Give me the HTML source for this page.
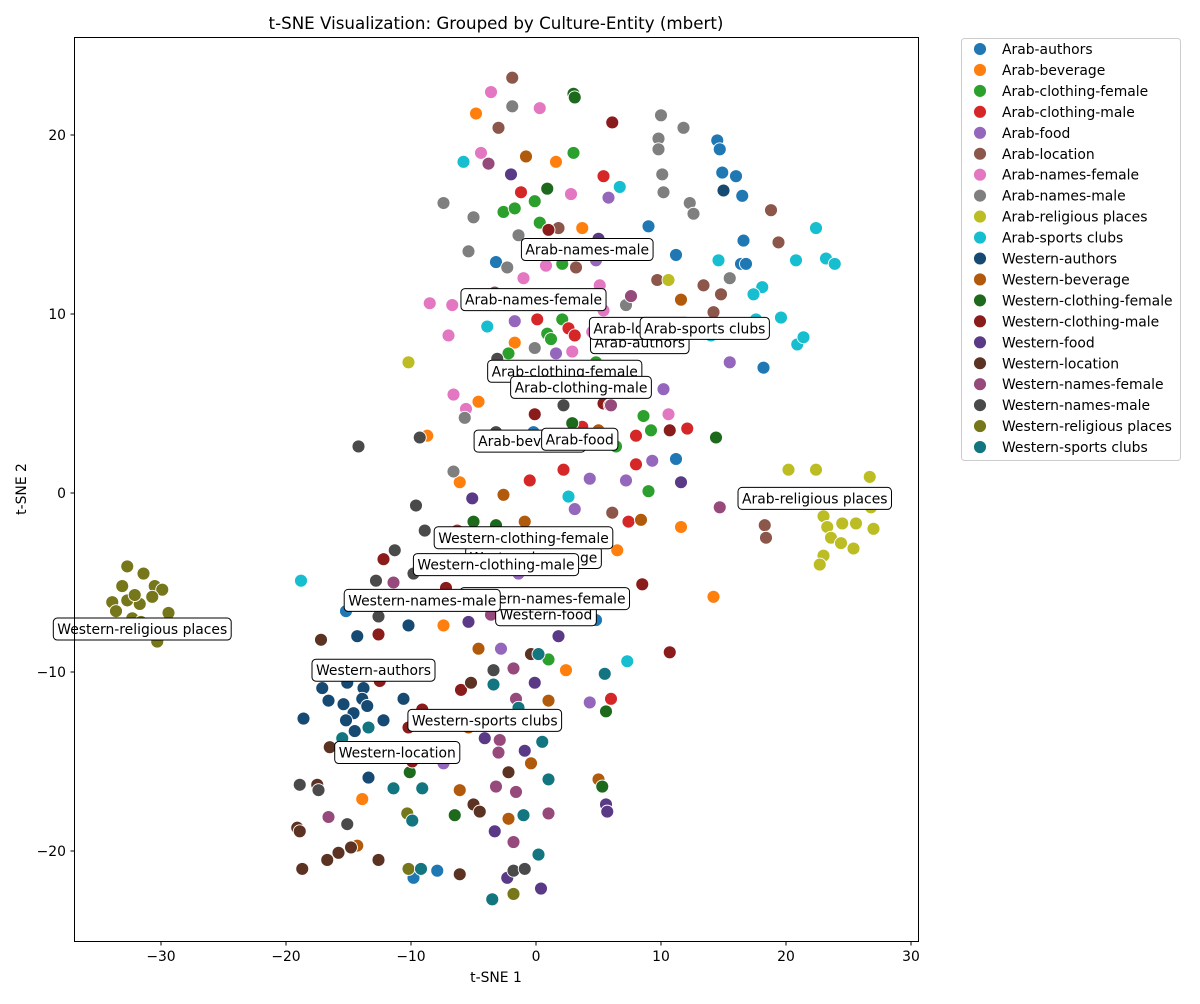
<!DOCTYPE html>
<html><head><meta charset="utf-8"><style>
body{margin:0;background:#fff;font-family:"DejaVu Sans","Liberation Sans",sans-serif}
svg text{font-family:"DejaVu Sans","Liberation Sans",sans-serif}
</style></head><body>
<svg id="chart" width="1200" height="1000" xmlns="http://www.w3.org/2000/svg">
<rect x="0" y="0" width="1200" height="1000" fill="#fff"/>
<text x="496" y="29" font-size="16.7" text-anchor="middle">t-SNE Visualization: Grouped by Culture-Entity (mbert)</text>
<text x="496" y="982" font-size="13.9" text-anchor="middle">t-SNE 1</text>
<text x="0" y="0" font-size="13.9" text-anchor="middle" transform="translate(26,489) rotate(-90)">t-SNE 2</text>
<g id="ticks"></g>
<g id="points"></g>
<g id="labels"></g>
<rect x="74.5" y="37.5" width="844" height="904" fill="none" stroke="#000" stroke-width="1"/>
<g id="legend"></g>
</svg>
<script>
const categories=["Arab-authors","Arab-beverage","Arab-clothing-female","Arab-clothing-male","Arab-food","Arab-location","Arab-names-female","Arab-names-male","Arab-religious places","Arab-sports clubs","Western-authors","Western-beverage","Western-clothing-female","Western-clothing-male","Western-food","Western-location","Western-names-female","Western-names-male","Western-religious places","Western-sports clubs"];
const colors=["#1f77b4","#ff7f0e","#2ca02c","#d62728","#9467bd","#8c564b","#e377c2","#7f7f7f","#bcbd22","#17becf","#174a72","#b25a0b","#1d6a1d","#8a1c1c","#5a3a87","#5c3323","#964a7c","#4a4a4a","#76761a","#127580"];
const xTicks=[-30,-20,-10,0,10,20,30];
const yTicks=[-20,-10,0,10,20];
const pts=[
[[14.5,19.7],[14.7,19.2],[14.9,17.9],[16,17.7],[16.5,16.6],[16.6,14.1],[16.4,12.8],[16.8,12.8],[9,14.9],[11.2,13.3],[-3.2,12.9],[18.2,7],[11.2,1.9],[-15.2,-6.6],[4.8,-7.1],[-7.9,-21.1],[-9.8,-21.5],[-0.2,3.4]],
[[-4.8,21.2],[1.6,18.5],[3.7,14.8],[-1.7,8.4],[-8.7,3.2],[-4.6,5.1],[-6.1,0.6],[11.6,-1.9],[6.5,-3.2],[14.2,-5.8],[-7.4,-7.4],[2.4,-9.9],[-13.9,-17.1]],
[[3,19],[-2.6,15.7],[-1.7,15.9],[-0.1,16.3],[0.3,15.1],[2.1,12.8],[-2.2,7.8],[0.9,8.9],[1.2,8.6],[2.1,9.7],[4.8,7.3],[8.6,4.3],[9.2,3.5],[6.4,2.6],[-3.7,2.9],[1,-9.3],[9,0.1]],
[[5.4,17.7],[-1.2,16.8],[-0.6,13.7],[0.1,9.7],[2.6,9.2],[3.1,8.8],[4,10.6],[3.7,3.7],[8,3.2],[12.1,3.6],[2.2,1.3],[-0.5,0.7],[8,1.6],[7.4,-1.6],[-6.3,-2.1],[6,-11.5]],
[[5.8,16.5],[5,14.1],[4.8,13],[2.6,13.4],[-1.7,9.6],[1.6,7.8],[10.2,5.8],[15.5,7.3],[9.3,1.8],[7.2,0.7],[4.3,0.8],[3.1,-0.9],[-1.4,-4.5],[-2.8,-8.7],[4.3,-11.7],[-7.4,-15.1]],
[[-1.9,23.2],[-3,20.4],[1.8,14.8],[3.2,12.6],[13.4,11.6],[9.7,11.9],[14.2,10.1],[14.8,11.1],[18.8,15.8],[19.4,14],[-3.3,11.2],[6.1,-1.1],[18.3,-1.8],[18.4,-2.5]],
[[-3.6,22.4],[0.3,21.5],[-4.4,19],[2.8,16.7],[-1,12],[0.8,12.7],[5.1,11.6],[-8.5,10.6],[-6.7,10.5],[-7,8.8],[2.9,7.9],[4.5,9],[-6.6,5.5],[-5.6,4.7],[10.6,4.4],[5.4,10.2]],
[[-1.9,21.6],[10,21.1],[11.8,20.4],[9.8,19.8],[9.8,19.2],[10.1,17.8],[10.2,16.8],[12.3,16.2],[12.6,15.6],[-7.4,16.2],[-5,15.4],[-1.4,14.4],[-5.4,13.5],[-2.3,12.6],[15.5,12],[7.2,10.5],[-0.1,8.1],[-5.7,4.2],[-6.6,1.2]],
[[-10.2,7.3],[10.6,11.9],[20.2,1.3],[22.4,1.3],[26.7,0.9],[23,-1.3],[23.3,-1.9],[26.8,-0.8],[27,-2],[25.6,-1.7],[24.5,-1.7],[23.6,-2.5],[24.4,-2.8],[23,-3.5],[25.4,-3.1],[22.7,-4]],
[[-5.8,18.5],[6.7,17.1],[-3.9,9.3],[14.6,13],[20.8,13],[22.4,14.8],[23.2,13.1],[23.9,12.8],[18.1,11.5],[17.4,11.1],[17.6,9.7],[19.6,9.8],[14,8.8],[20.9,8.3],[21.4,8.7],[2.6,-0.2],[7.3,-9.4],[-18.8,-4.9]],
[[15,16.9],[-16.5,-9.7],[-17.1,-10.9],[-16.6,-11.6],[-15.1,-10.6],[-13.8,-10.9],[-13.9,-11.5],[-13.5,-11.9],[-15.4,-11.8],[-14.6,-12.3],[-15.2,-12.7],[-14.5,-13.3],[-12.2,-12.7],[-18.6,-12.6],[-10.6,-11.5],[-10.2,-7.4],[-14.3,-8],[-13.4,-15.9]],
[[-0.8,18.8],[11.6,10.8],[5,3.5],[-2.6,-0.1],[-0.9,-1.6],[8.4,-1.5],[-4.6,-8.7],[1,-11.6],[-5.4,-13.1],[-0.4,-15.1],[5,-16],[-6.1,-16.6],[-2.2,-18.2],[-14.3,-19.7]],
[[3,22.3],[3.1,22.1],[0.9,17],[2.9,3.9],[14.4,3.1],[-5,-1.6],[-3.2,-1.8],[-10.1,-15.6],[-6.5,-18],[5.3,-16.4],[5.6,-12.2]],
[[6.1,20.7],[1,14.7],[5.4,5],[5.9,4.9],[-0.1,4.4],[10.7,3.5],[-12.2,-3.7],[-7.2,-5.3],[-12.6,-7.9],[8.5,-5.1],[10.7,-8.9],[-12.5,-10.5],[-9.1,-12.1],[-6,-11],[-10.2,-13.1],[-9.9,-15]],
[[-2,17.8],[5,14.2],[-5.1,-0.3],[11.6,0.6],[-5.4,-7.2],[1.8,-8],[-0.1,-10.6],[-4.1,-13.7],[-3.3,-18.9],[-0.9,-14.4],[5.6,-17.4],[5.7,-17.8],[0.4,-22.1],[-2.3,-21.5]],
[[-17.2,-8.2],[-17.5,-16.3],[-16.5,-14.2],[-19.1,-18.7],[-18.9,-18.9],[-18.7,-21],[-16.7,-20.5],[-15.8,-20.1],[-14.8,-19.8],[-12.6,-20.5],[-5,-17.4],[-4.5,-17.8],[-2.2,-15.6],[-0.4,-9],[-5.2,-10.6],[-6.1,-21.3]],
[[-3.8,18.4],[7.6,11],[6,4.9],[-3.6,-6.8],[-1.8,-9.8],[-1.6,-11.5],[-2.9,-13.8],[-3,-14.5],[-1.6,-16.7],[-3.2,-16.4],[-1.8,-19.5],[1,-17.9],[-16.6,-18.1],[14.7,-0.8],[-11.4,-5]],
[[-14.2,2.6],[-9.3,3.1],[2.2,4.9],[-9.6,-0.7],[-8.9,-2.1],[-11.3,-3.2],[-12.8,-4.9],[-9.8,-4.5],[-12.6,-6.9],[-3.4,-9.9],[-17.4,-16.6],[-18.9,-16.3],[-15.1,-18.5],[-3.1,7.5],[-3.2,3.4],[-1.8,-21.1],[-0.9,-21]],
[[-32.7,-4.1],[-31.4,-4.5],[-33.1,-5.2],[-30.5,-5.2],[-29.9,-5.4],[-33.9,-6.1],[-32.7,-6],[-31.7,-6.2],[-32.1,-5.7],[-30.7,-5.8],[-33.6,-6.6],[-29.4,-6.7],[-32.3,-7],[-31.6,-7.2],[-30.3,-8.3],[-10.2,-21],[-1.8,-22.4],[-10.3,-17.9]],
[[-15.5,-13.7],[-13.4,-13.1],[-11.4,-16.5],[-9.1,-16.5],[-9.9,-18.3],[-9.2,-21],[-3.5,-22.7],[0.2,-20.2],[-1,-18],[1,-16],[0.5,-13.9],[-1.4,-12],[-3.4,-10.7],[0.2,-9],[5.5,-10.1]]
];
const labelPos=[[8.3,8.4],[-0.5,2.9],[2.3,6.8],[3.6,5.9],[3.5,3],[8.3,9.2],[-0.2,10.8],[4.1,13.6],[22.3,-0.3],[13.5,9.2],[-13,-9.9],[-0.2,-3.6],[-1,-2.5],[-3.2,-4],[0.8,-6.8],[-11.1,-14.5],[0.7,-5.9],[-9.1,-6],[-31.5,-7.6],[-4.1,-12.7]];
const NS="http://www.w3.org/2000/svg";
function sx(v){return 536+12.5*v;}
function sy(v){return 493-17.9*v;}
function mk(tag,at,parent){const e=document.createElementNS(NS,tag);for(const k in at)e.setAttribute(k,at[k]);parent.appendChild(e);return e;}
const gT=document.getElementById('ticks');
xTicks.forEach(t=>{
  const l=mk('line',{x1:sx(t),x2:sx(t),y1:941.5,y2:945.5,stroke:'#000'},gT);
  
  
  const tx=mk('text',{x:sx(t),y:961,'font-size':13.9,'text-anchor':'middle'},gT);
  tx.textContent=t<0?'\u2212'+Math.abs(t):String(t);
  
  
});
yTicks.forEach(t=>{
  const l=mk('line',{x1:70.5,x2:74.5,y1:sy(t),y2:sy(t),stroke:'#000'},gT);
  
  
  const tx=mk('text',{x:66,y:sy(t)+5,'font-size':13.9,'text-anchor':'end'},gT);
  tx.textContent=t<0?'\u2212'+Math.abs(t):String(t);
  
  
});
const gP=document.getElementById('points');
pts.forEach((arr,ci)=>{arr.forEach(p=>{
  const c=mk('circle',{cx:sx(p[0]),cy:sy(p[1]),r:6.5,fill:colors[ci],stroke:'#fff','stroke-width':0.9},gP);
  
  
});});
const gL=document.getElementById('labels');
labelPos.forEach((p,ci)=>{
  const g=mk('g',{},gL);
  
  
  const t=mk('text',{x:sx(p[0]),y:sy(p[1])+5,'font-size':13.9,'text-anchor':'middle'},g);
  t.textContent=categories[ci];
  const b=t.getBBox();
  const r=mk('rect',{x:b.x-4,y:sy(p[1])-11,width:b.width+8,height:22,rx:4,fill:'#fff',stroke:'#000','stroke-width':1},g);
  g.insertBefore(r,t);
});
const gLe=document.getElementById('legend');
const lb=mk('rect',{x:961.5,y:38.5,width:219,height:422,rx:3,fill:'#fff',stroke:'#ccc'},gLe);


categories.forEach((c,i)=>{
  const y=49+i*20.95;
  const g=mk('g',{},gLe);
  
  
  mk('circle',{cx:980,cy:y,r:6.5,fill:colors[i],stroke:'#fff','stroke-width':0.9},g);
  const t=mk('text',{x:1002,y:y+5,'font-size':13.9},g);
  t.textContent=c;
});
</script>
</body></html>
